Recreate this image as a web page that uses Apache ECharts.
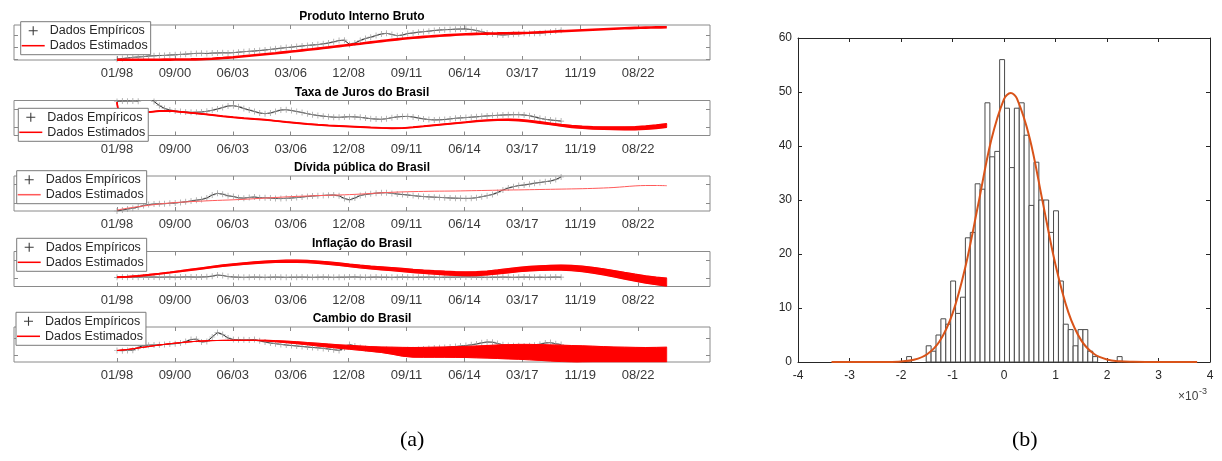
<!DOCTYPE html>
<html>
<head>
<meta charset="utf-8">
<script src="https://cdn.jsdelivr.net/npm/echarts@6/dist/echarts.min.js"></script>
<style>
html,body{margin:0;padding:0;background:#fff;}
#chart{width:1222px;height:461px;}
</style>
</head>
<body>
<div id="chart"></div>
<script>
// ---------------- Panel (a): five monthly series, month 0 = 01/1998 ----------------
const xTickLabels = ['01/98','09/00','06/03','03/06','12/08','09/11','06/14','03/17','11/19','08/22'];
const tickStepMonths = 32.855;          // one tick every 1000 days
const titles = ['Produto Interno Bruto','Taxa de Juros do Brasil','Dívida pública do Brasil','Inflação do Brasil','Cambio do Brasil'];

const empStep = 3;   // observed values, quarterly from 01/98
const estStep = 6;   // estimated paths, half-yearly from 01/98

const pibEmp = [0.7,1.5,2.0,2.7,3.0,3.3,4.0,4.2,4.5,4.6,
  5.0,5.2,5.6,5.8,6.3,6.6,6.7,6.5,6.9,7.0,
  7.2,7.1,7.3,7.8,8.3,8.7,9.0,9.5,10.0,10.6,
  11.2,11.8,12.4,12.8,13.5,14.0,14.6,15.0,15.4,16.2,
  17.0,18.2,19.5,19.8,15.5,17.0,19.5,21.5,22.8,24.5,
  26.0,26.7,25.5,24.3,25.0,26.5,27.0,27.8,28.3,28.8,
  29.5,30.0,30.3,30.5,30.8,31.0,31.0,30.5,29.5,28.3,
  27.0,26.0,25.3,25.0,25.3,25.8,26.2,26.7,26.5,26.7,
  26.8,27.3,28.0,29.0,29.8];
const pibEst = [0.2,0.2,0.2,0.2,0.3,0.4,0.5,0.6,0.8,1.3,
  2.0,2.8,3.8,4.8,5.8,6.8,7.9,9.0,10.2,11.4,
  12.6,13.9,15.1,16.3,17.6,18.9,20.1,21.2,22.2,23.1,
  23.9,24.6,25.2,25.7,26.1,26.4,26.6,26.8,26.9,27.2,
  27.7,28.2,28.7,29.2,29.7,30.2,30.7,31.2,31.7,32.1,
  32.4,32.6,32.7];

const jurosEmp = [34,34.5,34.2,34.6,34.3,40,40,34,30,27,
  25.5,24.5,24,23.5,23.2,23.3,23.5,24.2,25.2,26.5,
  28,29.5,29.8,28.8,27,25.5,24,22.5,21.8,22.5,
  24,25.5,25.8,25,24,23,21.8,20.8,20,19.3,
  18.8,18.3,18.2,18.5,18.8,18.6,18.2,17.5,16.8,16.4,
  16.2,16.8,17.8,18.6,19,19.1,18.5,17.5,16.6,15.9,
  15.6,15.7,16,16.6,17.2,17.6,17.9,18.3,18.7,19.2,
  19.6,19.9,20.2,20.5,20.7,20.8,20.8,20.5,19.8,18.6,
  17.2,16.2,15.5,15,14.4];
const jurosEstMonths = [0,1,6,12,18,24,30,36,42,48,54,60,66,72,78,84,90,96,102,108,114,120,
  126,132,138,144,150,156,162,168,174,180,186,192,198,204,210,216,222,228,234,240,
  246,252,258,264,270,276,282,288,294,300,306,312];
const jurosEst = [33.3,20,21,22.2,23.4,24.5,24.6,23.6,22.6,21.6,20.5,19.3,
  18.2,17.3,16.5,15.8,14.6,13.5,12.5,11.5,10.7,10,
  9.5,9,8.5,8,7.6,7.3,7.4,8.2,9.2,10.3,
  11.3,12.3,13.3,14.3,15.1,15.6,15.8,15.4,14.4,13,
  11.6,10.2,9,8.2,7.7,7.4,7.2,7.2,7.3,7.8,
  8.8,10];
const jurosSpread = [0.2,0.2,0.2,0.2,0.2,0.2,0.2,0.2,0.2,0.2,0.2,0.2,
  0.2,0.2,0.2,0.2,0.2,0.2,0.2,0.2,0.2,0.2,
  0.2,0.2,0.2,0.2,0.2,0.2,0.2,0.2,0.2,0.25,
  0.3,0.3,0.3,0.35,0.4,0.45,0.5,0.55,0.6,0.65,
  0.7,0.8,0.9,1.0,1.1,1.2,1.3,1.4,1.5,1.6,
  1.7,1.8];

const dividaEmp = [0,1,2,2.7,4,5.5,6.5,7,7.2,7.3,
  7.7,8,8.6,9.2,10,10.8,11.5,13,16,17.7,
  16.8,15.2,14.5,13.2,12.8,13.6,14,13.2,13.3,12.9,
  12.5,12.4,12.7,13,13.4,14,14.5,15,15.3,15.6,
  15.8,16,15.2,12.5,11.2,13,15.5,16.5,17.2,17.8,
  18.2,18.3,17.6,17,16.5,16,15.4,14.8,14.4,14.1,
  13.8,13.6,13.3,13,12.8,12.7,12.6,12.7,13.3,14.3,
  15.3,16.5,18.5,21,23,24.3,25.5,26,26.8,27.8,
  28.5,29.3,30,31.5,34];
const dividaEst = [1,2.8,4.3,5.7,7,8,8.8,9.4,9.9,10.4,
  10.8,11.2,11.7,12.3,12.9,13.5,14.1,14.6,15,15.4,
  15.7,16,16.4,16.9,17.5,18.2,18.7,19.1,19.4,19.6,
  19.8,19.9,20,20.2,20.4,20.6,20.8,21,21.1,21.3,
  21.5,21.7,21.9,22.1,22.3,22.6,23,23.5,24.3,25.1,
  25.5,25.5,25.3];

const inflEmp = [9.2,9.4,9.3,9.5,9.3,9.6,9.4,9.5,9.3,9.4,
  9.5,9.3,9.4,9.6,9.5,9.4,9.5,9.7,10.3,11.4,
  11.0,9.9,9.5,9.3,9.2,9.3,9.4,9.3,9.2,9.3,
  9.4,9.3,9.2,9.3,9.3,9.4,9.3,9.2,9.3,9.4,
  9.3,9.2,9.3,9.3,9.4,9.5,9.3,9.2,9.3,9.4,
  9.3,9.3,9.2,9.3,9.4,9.3,9.2,9.3,9.3,9.4,
  9.3,9.2,9.3,9.3,9.4,9.5,9.6,9.5,9.4,9.3,
  9.2,9.3,9.3,9.4,9.3,9.2,9.3,9.4,9.3,9.2,
  9.3,9.2,9.3,9.4,9.3];
const inflEst = [9.3,9.8,10.6,11.6,12.8,14.0,15.3,16.7,18.1,19.5,
  20.8,21.9,22.9,23.8,24.5,25,25.3,25.3,25,24.3,
  23.4,22.3,21.1,20,19,18.2,17.4,16.5,15.6,14.8,
  14.1,13.5,13,12.7,12.9,13.5,14.6,15.8,16.9,17.8,
  18.4,18.8,18.9,18.5,17.6,16.3,14.7,12.8,10.8,8.9,
  7.1,5.6,4.4];
const inflSpread = [0.3,0.32,0.35,0.38,0.4,0.45,0.5,0.55,0.6,0.65,
  0.7,0.75,0.8,0.85,0.9,0.95,1.0,1.05,1.1,1.15,
  1.2,1.25,1.3,1.35,1.4,1.45,1.5,1.55,1.6,1.65,
  1.7,1.75,1.8,1.85,1.9,1.95,2.0,2.05,2.1,2.2,
  2.3,2.4,2.5,2.6,2.7,2.85,3.0,3.15,3.3,3.45,
  3.6,3.75,3.9];

const cambioEmp = [11.5,11.3,11.6,11.8,14.5,16.5,16.8,17,17.2,17.5,
  18,18.3,19,20.5,22.5,22.8,20,20.5,25,29.5,
  27.5,24,22.5,22.2,22.3,22,22.5,21.2,20,19,
  18.3,17.6,17,16.5,16,15.5,15,14.5,14.2,13.6,
  13,12.3,11.6,14,17.5,16,14.5,13.5,13,12.6,
  12.3,12.4,12.2,12,12.1,12.3,12.2,12.6,13,13.5,
  14,14.2,14.5,15,15.5,16,16.5,17.2,18,19.2,
  20,19.8,18.5,17.2,16.5,16.3,16.2,16,16.2,16.8,
  17.8,19,19.4,18.2,17.5];
const cambioEst = [11.5,12.5,14,15.5,17,18.3,19.4,20.3,21,21.4,
  21.6,21.7,21.7,21.7,21.4,20.8,20.1,19.3,18.35,17.4,
  16.4,15.45,14.65,13.85,13,12.25,11.3,10.2,9.65,9.65,
  9.75,9.85,9.95,10.05,10.1,10.2,10.25,10.25,10.15,9.9,
  9.5,9.05,8.6,8.15,7.7,7.4,7.2,7,6.9,6.8,
  6.75,6.8,6.9];
const cambioSpread = [0,0,0,0,0,0,0,0,0,0,
  0,0,0,0.1,0.4,0.6,0.8,1.0,1.15,1.4,
  1.6,1.75,1.95,2.15,2.4,2.75,3.5,4.4,4.85,4.95,
  5.05,5.15,5.35,5.55,5.9,6.3,6.75,7.15,7.45,7.7,
  7.9,8.05,8.2,8.35,8.5,8.4,8.2,8,7.9,7.8,
  7.75,7.8,7.9];

const yTickValues = [[1,13,25],[8.3,26],[7.7,26.7],[8.3,26],[6.5,23.5]];

// ---------------- Panel (b): histogram of residuals (x in units of 1e-3) ----------------
const binStart = -1.891;
const binWidth = 0.0951;
const binCounts = [1,0,0,0,3,2,5,8,7,15,9,12,23,24,33,32,48,38,39,56,
  47,36,47,48,42,29,37,30,30,24,28,15,7,6,3,6,6,2,1,0,0,0,0,1];
const fitX = [-3.35,-2.75,-2.5,-2.25,-2,-1.75,-1.5,-1.25,-1,-0.75,-0.5,-0.25,0,0.13,
  0.25,0.5,0.75,1,1.25,1.5,1.75,2,2.25,2.5,2.75,3,3.75];
const fitY = [0,0,0.01,0.02,0.11,0.43,1.4,3.85,8.96,17.6,29.2,41.0,48.7,49.8,
  48.8,41.4,29.7,18.0,9.2,4.0,1.47,0.45,0.12,0.03,0,0,0];

// ---------------- layout ----------------
const FONT = '"Liberation Sans", Arial, Helvetica, sans-serif';
const panelLeft = 14, panelWidth = 696, panelHeight = 35;
const panelTops = [25, 100.5, 176, 251.5, 327];
const legendPos = [[20.7,21.7],[18.3,108.3],[16.7,170.7],[16.7,238.3],[16,312.3]];
const xMin = -58.45, xMax = 336.5;
const xTickValues = xTickLabels.map((_, i) => i * tickStepMonths);
const boxColor = '#8a8a8a';
const plusPath = 'path://M4.4,0H5.6V4.4H10V5.6H5.6V10H4.4V5.6H0V4.4H4.4Z';
const linePath = 'path://M0,0H24V1.6H0Z';

const panels = [
  {emp: pibEmp, est: pibEst, months: null, spread: null, width: 2.6},
  {emp: jurosEmp, est: jurosEst, months: jurosEstMonths, spread: jurosSpread, width: 1.5},
  {emp: dividaEmp, est: dividaEst, months: null, spread: null, width: 1, color: '#ff5a5a'},
  {emp: inflEmp, est: inflEst, months: null, spread: inflSpread, width: 1.3},
  {emp: cambioEmp, est: cambioEst, months: null, spread: cambioSpread, width: 1}
];

// filled envelope between two estimated paths, drawn through the axis scales
function bandRenderer(months, lo, hi, color) {
  return (params, api) => {
    if (params.dataIndex !== 0) return null;
    const upper = months.map((m, i) => api.coord([m, hi[i]]));
    const lower = months.map((m, i) => api.coord([m, lo[i]])).reverse();
    return {type: 'polygon', shape: {points: upper.concat(lower)},
      style: {fill: color, stroke: color, lineWidth: 0.5}};
  };
}

const grid = [], xAxis = [], yAxis = [], series = [], legend = [], title = [];

panels.forEach((p, k) => {
  grid.push({left: panelLeft, top: panelTops[k], width: panelWidth, height: panelHeight,
    show: true, borderColor: boxColor, borderWidth: 1, backgroundColor: '#fff'});
  const tickCommon = {show: true, inside: true, length: 4, lineStyle: {color: boxColor, width: 1}};
  xAxis.push({type: 'value', gridIndex: k, min: xMin, max: xMax, position: 'bottom',
    axisLine: {show: false, onZero: false}, splitLine: {show: false},
    axisTick: Object.assign({customValues: xTickValues}, tickCommon),
    axisLabel: {customValues: xTickValues, margin: 7, fontSize: 13, fontFamily: FONT, color: '#3a3a3a',
      formatter: v => xTickLabels[Math.round(v / tickStepMonths)]}});
  xAxis.push({type: 'value', gridIndex: k, min: xMin, max: xMax, position: 'top',
    axisLine: {show: false, onZero: false}, splitLine: {show: false},
    axisTick: Object.assign({customValues: xTickValues}, tickCommon), axisLabel: {show: false}});
  yAxis.push({type: 'value', gridIndex: k, min: 0, max: 35, position: 'left',
    axisLine: {show: false, onZero: false}, splitLine: {show: false},
    axisTick: Object.assign({customValues: yTickValues[k]}, tickCommon), axisLabel: {show: false}});
  yAxis.push({type: 'value', gridIndex: k, min: 0, max: 35, position: 'right',
    axisLine: {show: false, onZero: false}, splitLine: {show: false},
    axisTick: Object.assign({customValues: yTickValues[k]}, tickCommon), axisLabel: {show: false}});

  const xi = 2 * k, yi = 2 * k;
  series.push({type: 'line', name: 'Dados Empíricos', xAxisIndex: xi, yAxisIndex: yi,
    data: p.emp.map((v, i) => [i * empStep, v]),
    symbol: plusPath, symbolSize: 6, showSymbol: true, showAllSymbol: true,
    itemStyle: {color: '#9a9a9a'}, lineStyle: {color: '#1e1e1e', width: 1},
    clip: true, z: 2, silent: true});

  const months = p.months || p.est.map((_, i) => i * estStep);
  const red = p.color || '#ff0000';
  if (!p.spread) {
    series.push({type: 'line', name: 'Dados Estimados', xAxisIndex: xi, yAxisIndex: yi,
      data: p.est.map((v, i) => [months[i], v]), showSymbol: false, smooth: 0.3,
      lineStyle: {color: red, width: p.width}, itemStyle: {color: red}, clip: true, z: 3, silent: true});
  } else {
    const lo = p.est.map((v, i) => v - p.spread[i]);
    const hi = p.est.map((v, i) => v + p.spread[i]);
    series.push({type: 'custom', name: 'Dados Estimados', xAxisIndex: xi, yAxisIndex: yi,
      data: months.map((m, i) => [m, lo[i], hi[i]]), encode: {x: 0, y: [1, 2]},
      renderItem: bandRenderer(months, lo, hi, red), clip: true, z: 3, silent: true});
    [lo, hi].forEach(edge => {
      series.push({type: 'line', name: 'Dados Estimados', xAxisIndex: xi, yAxisIndex: yi,
        data: edge.map((v, i) => [months[i], v]), showSymbol: false,
        lineStyle: {color: red, width: p.width}, itemStyle: {color: red}, clip: true, z: 3, silent: true});
    });
  }

  legend.push({orient: 'vertical', left: legendPos[k][0], top: legendPos[k][1],
    padding: [2, 3, 2, 1], itemGap: 1, itemWidth: 23, itemHeight: 9,
    backgroundColor: '#fff', borderColor: '#7a7a7a', borderWidth: 1, selectedMode: false,
    textStyle: {fontSize: 12.5, fontFamily: FONT, color: '#262626', lineHeight: 14},
    data: [{name: 'Dados Empíricos', icon: plusPath, itemStyle: {color: '#3a3a3a'}},
           {name: 'Dados Estimados', icon: linePath, itemStyle: {color: red}}]});

  title.push({text: titles[k], left: panelLeft + panelWidth / 2, top: panelTops[k] - 15,
    textAlign: 'center', padding: 0,
    textStyle: {fontSize: 12, fontWeight: 'bold', fontFamily: FONT, color: '#000', lineHeight: 14}});
});

// histogram grid
const hg = grid.length;
grid.push({left: 798, top: 38, width: 412, height: 324, show: false});
const axisDark = '#262626';
const histTick = {show: true, inside: true, length: 4, lineStyle: {color: axisDark}};
const hx = xAxis.length, hy = yAxis.length;
xAxis.push({type: 'value', gridIndex: hg, min: -4, max: 4, interval: 1, position: 'bottom',
  axisLine: {show: true, onZero: false, lineStyle: {color: axisDark}}, splitLine: {show: false}, axisTick: histTick,
  axisLabel: {margin: 8, fontSize: 12, fontFamily: FONT, color: axisDark}});
xAxis.push({type: 'value', gridIndex: hg, min: -4, max: 4, interval: 1, position: 'top',
  axisLine: {show: true, onZero: false, lineStyle: {color: axisDark}}, splitLine: {show: false}, axisTick: histTick,
  axisLabel: {show: false}});
yAxis.push({type: 'value', gridIndex: hg, min: 0, max: 60, interval: 10, position: 'left',
  axisLine: {show: true, onZero: false, lineStyle: {color: axisDark}}, splitLine: {show: false}, axisTick: histTick,
  axisLabel: {margin: 6, fontSize: 12, fontFamily: FONT, color: axisDark}});
yAxis.push({type: 'value', gridIndex: hg, min: 0, max: 60, interval: 10, position: 'right',
  axisLine: {show: true, onZero: false, lineStyle: {color: axisDark}}, splitLine: {show: false}, axisTick: histTick,
  axisLabel: {show: false}});

series.push({type: 'custom', xAxisIndex: hx, yAxisIndex: hy, silent: true, z: 2,
  data: binCounts.map((c, i) => [binStart + i * binWidth, binStart + (i + 1) * binWidth, c]),
  encode: {x: [0, 1], y: 2},
  renderItem: (params, api) => {
    if (api.value(2) <= 0) return null;
    const p0 = api.coord([api.value(0), api.value(2)]);
    const p1 = api.coord([api.value(1), 0]);
    return {type: 'rect', shape: {x: p0[0], y: p0[1], width: p1[0] - p0[0], height: p1[1] - p0[1]},
      style: {fill: '#fff', stroke: '#4a4a4a', lineWidth: 1}};
  }});
series.push({type: 'line', xAxisIndex: hx, yAxisIndex: hy, silent: true, z: 4,
  data: fitX.map((x, i) => [x, fitY[i]]), showSymbol: false, smooth: 0.35,
  lineStyle: {color: '#d95319', width: 2}});

const option = {
  animation: false,
  backgroundColor: '#fff',
  title, grid, xAxis, yAxis, legend, series,
  graphic: [
    {type: 'text', left: 1178, top: 391, style: {text: '×10', font: '12px ' + FONT, fill: '#404040'}},
    {type: 'text', left: 1199, top: 387, style: {text: '-3', font: '9px ' + FONT, fill: '#404040'}},
    {type: 'text', left: 400, top: 429, style: {text: '(a)', font: '22px "Liberation Serif", "Times New Roman", serif', fill: '#000'}},
    {type: 'text', left: 1012, top: 429, style: {text: '(b)', font: '22px "Liberation Serif", "Times New Roman", serif', fill: '#000'}}
  ]
};

const chart = echarts.init(document.getElementById('chart'));
chart.setOption(option);
</script>
</body>
</html>
